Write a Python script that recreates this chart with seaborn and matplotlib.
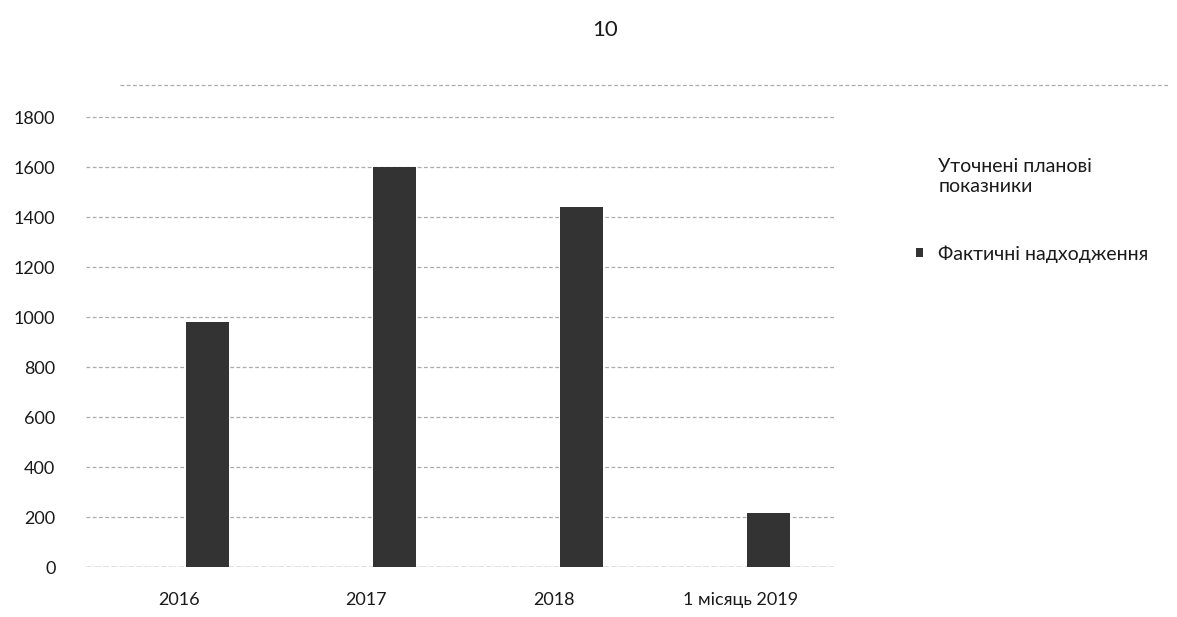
import numpy as np
import pandas as pd
import matplotlib
matplotlib.use("Agg")
import matplotlib.pyplot as plt
from matplotlib.patches import Patch
from matplotlib.lines import Line2D
import seaborn as sns

# Data
categories = ["2016", "2017", "2018", "1 місяць 2019"]
planned = [np.nan, np.nan, np.nan, np.nan]      # уточнені планові показники (no visible bars)
actual = [980, 1600, 1440, 215]                  # фактичні надходження
series_names = ["Уточнені планові показники", "Фактичні надходження"]
y_ticks = [0, 200, 400, 600, 800, 1000, 1200, 1400, 1600, 1800]
page_number = "10"

df = pd.DataFrame({
    "category": categories * 2,
    "series": [series_names[0]] * len(categories) + [series_names[1]] * len(categories),
    "value": planned + actual,
})

sns.set_theme(style="white")
plt.rcParams["font.family"] = ["Lato", "DejaVu Sans"]

fig = plt.figure(figsize=(11.77, 6.17), dpi=100)
fig.patch.set_facecolor("white")

ax = fig.add_axes([86 / 1177, 50 / 617, (834 - 86) / 1177, 500 / 617])
ax.set_facecolor("none")

palette = {series_names[0]: "white", series_names[1]: "#333333"}
sns.barplot(data=df, x="category", y="value", hue="series",
            hue_order=series_names, order=categories, palette=palette,
            width=0.6, gap=0.23, errorbar=None, legend=False, ax=ax,
            zorder=3, linewidth=0)

ax.set_ylim(0, 2000)
ax.set_yticks(y_ticks)
ax.set_xlim(-0.5, len(categories) - 0.5)
ax.yaxis.grid(True, color="#ababab", linestyle=(0, (3, 2)), linewidth=0.9, zorder=1)
ax.xaxis.grid(False)
for s in ax.spines.values():
    s.set_visible(False)
ax.axhline(0, color="#8a8a8a", linewidth=1.0, linestyle=(0, (4, 2)), zorder=2)
ax.set_xlabel("")
ax.set_ylabel("")
ax.tick_params(axis="both", length=0, labelsize=13, colors="#1a1a1a")
ax.tick_params(axis="y", pad=22)
ax.tick_params(axis="x", pad=18)

# dashed rule across the top of the chart area
fig.add_artist(Line2D([120 / 1177, 1170 / 1177], [1 - 85 / 617, 1 - 85 / 617],
                      color="#ababab", linewidth=0.9, linestyle=(0, (3, 2))))

# legend
handles = [Patch(facecolor=palette[n], edgecolor="none") for n in series_names]
labels = ["Уточнені планові\nпоказники", series_names[1]]
fig.legend(handles, labels, loc="upper left", bbox_to_anchor=(908 / 1177, 1 - 150 / 617),
           frameon=False, fontsize=14, handlelength=0.35, handleheight=0.35,
           handletextpad=0.8, labelspacing=2.6, borderaxespad=0, labelcolor="#1a1a1a")

fig.text(605 / 1177, 1 - 30 / 617, page_number, ha="center", va="center",
         fontsize=16, color="#1a1a1a")

fig.savefig("out.png", dpi=100, facecolor="white")
